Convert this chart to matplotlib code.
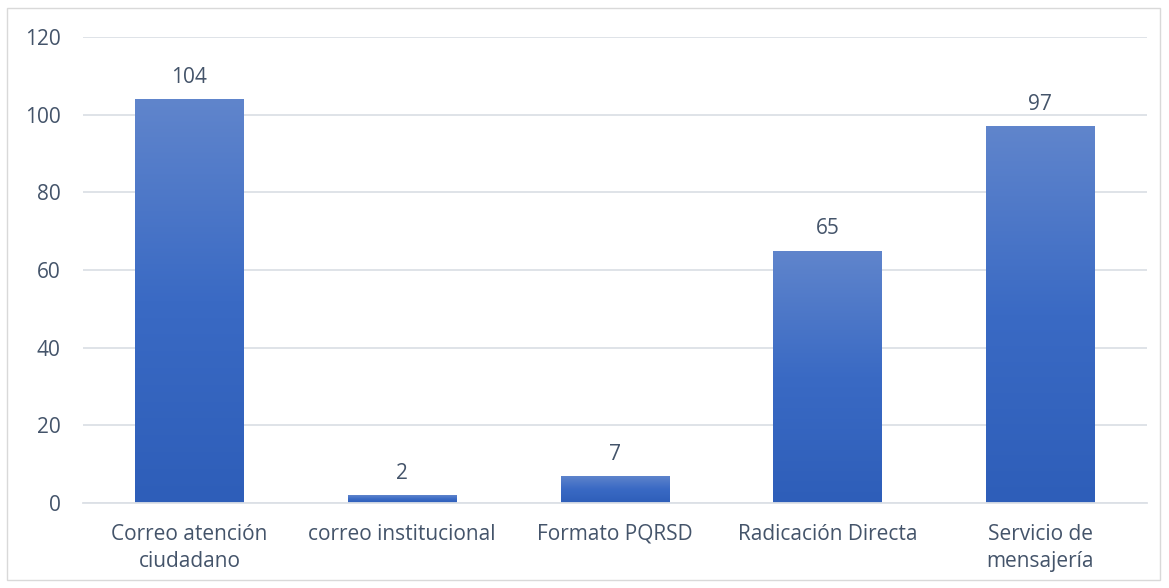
import numpy as np
import matplotlib
matplotlib.use("Agg")
import matplotlib.pyplot as plt
from matplotlib.colors import LinearSegmentedColormap
from matplotlib.patches import Rectangle

plt.rcParams['font.family'] = ['Open Sans', 'DejaVu Sans']

categories = ["Correo atención\nciudadano", "correo institucional", "Formato PQRSD",
              "Radicación Directa", "Servicio de\nmensajería"]
values = [104, 2, 7, 65, 97]
y_ticks = [0, 20, 40, 60, 80, 100, 120]

text_col = '#44546A'
grid_col = '#DCE0E6'
fsize = 15

fig = plt.figure(figsize=(11.69, 5.88), dpi=100)
fig.patches.append(Rectangle((7 / 1169, 8 / 588), 1153 / 1169, 572 / 588,
                             transform=fig.transFigure, fill=False,
                             edgecolor='#D9D9D9', linewidth=1))
ax = fig.add_axes([0.071, 0.1446, 0.910, 0.7925])

x = np.arange(len(values))
bars = ax.bar(x, values, width=0.51, color='none', zorder=2)

# vertical gradient per bar
cmap = LinearSegmentedColormap.from_list('g', ['#2E5EB9', '#3A6AC4', '#6085CC'])
grad = np.linspace(0, 1, 256).reshape(-1, 1)
for b in bars:
    x0, w, h = b.get_x(), b.get_width(), b.get_height()
    im = ax.imshow(grad, cmap=cmap, aspect='auto', origin='lower',
                   extent=[x0, x0 + w, 0, h], zorder=2)
    im.set_clip_path(b)
    ax.annotate(str(int(h)), (x0 + w / 2, h), xytext=(0, 8),
                textcoords='offset points', ha='center', va='bottom',
                fontsize=fsize, color=text_col)

ax.set_xlim(-0.5, len(values) - 0.5)
ax.set_ylim(0, 120)
ax.set_yticks(y_ticks)
ax.set_xticks(x)
ax.set_xticklabels(categories, linespacing=1.4)
ax.yaxis.grid(True, color=grid_col, linewidth=1.3, zorder=0)
ax.set_axisbelow(True)
for s in ['top', 'right', 'left']:
    ax.spines[s].set_visible(False)
ax.spines['bottom'].set_color(grid_col)
ax.spines['bottom'].set_linewidth(1.3)
ax.tick_params(axis='both', length=0, labelsize=fsize, labelcolor=text_col)
ax.tick_params(axis='x', pad=15)
ax.tick_params(axis='y', pad=16)

fig.savefig('out.png', dpi=100)
